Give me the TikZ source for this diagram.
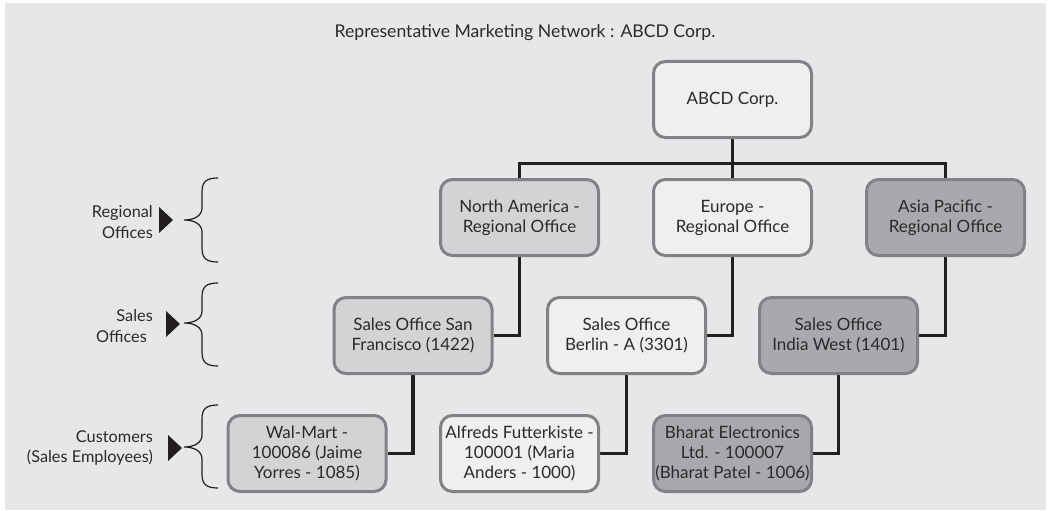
\documentclass[tikz,border=0pt]{standalone}
\usepackage{fontspec}
\setmainfont{Lato}
\definecolor{bgc}{HTML}{E6E7E8}
\definecolor{lightc}{HTML}{D1D3D4}
\definecolor{darkc}{HTML}{A7A9AC}
\definecolor{whitec}{HTML}{EFEFF0}
\definecolor{bordc}{HTML}{808285}
\definecolor{linec}{HTML}{231F20}
\definecolor{txtc}{HTML}{2A2A2A}
\newcommand\bxfont{\fontsize{17}{20}\selectfont}
\newcommand\lblfont{\fontsize{16.3}{20.5}\selectfont}
\pgfdeclarelayer{bglayer}
\pgfdeclarelayer{connlayer}
\pgfsetlayers{bglayer,connlayer,main}
\begin{document}
\begin{tikzpicture}[x=1pt,y=-1pt,
  box/.style={draw=bordc, line width=3pt, rounded corners=12pt, minimum width=158pt, minimum height=76pt, inner sep=0pt, align=center, font=\bxfont, text=txtc},
  lightbox/.style={box, fill=lightc},
  darkbox/.style={box, fill=darkc},
  whitebox/.style={box, fill=whitec},
  conn/.style={draw=linec, line width=3.2pt},
  bracepath/.style={draw=linec, line width=1.2pt},
  pointer/.style={fill=linec},
  lbl/.style={anchor=east, align=right, font=\lblfont, text=txtc, inner sep=0pt}]
\useasboundingbox (0,0) rectangle (1049,511);
\begin{pgfonlayer}{bglayer}
\fill[bgc] (5,3) rectangle (1046,510);
\end{pgfonlayer}

\node[font=\fontsize{17.6}{20}\selectfont, text=txtc] (title) at (525,33) {Representative Marketing Network : ABCD Corp.};

\node[whitebox] (abcd) at (732.5,99.5) {ABCD Corp.};

\node[lightbox] (na) at (519.5,217.5) {North America -\\Regional Office};
\node[whitebox] (eu) at (732.5,217.5) {Europe -\\Regional Office};
\node[darkbox] (ap) at (945.5,217.5) {Asia Pacific -\\Regional Office};

\node[lightbox] (sf) at (413,335.5) {Sales Office San\\Francisco (1422)};
\node[whitebox] (be) at (626.5,335.5) {Sales Office\\Berlin - A (3301)};
\node[darkbox] (iw) at (838.5,335.5) {Sales Office\\India West (1401)};

\node[lightbox] (wm) at (307,453.5) {Wal-Mart -\\100086 (Jaime\\Yorres - 1085)};
\node[whitebox] (af) at (519.5,453.5) {Alfreds Futterkiste -\\100001 (Maria\\Anders - 1000)};
\node[darkbox] (bh) at (732.5,453.5) {Bharat Electronics\\Ltd. - 100007\\(Bharat Patel - 1006)};

\coordinate (bus) at (732.5,163.5);
\begin{pgfonlayer}{connlayer}
\draw[conn] (abcd.south) -- (eu.north);
\draw[conn] (na.north) |- (bus) -| (ap.north);
\draw[conn] (na.south) |- (sf.east);
\draw[conn] (eu.south) |- (be.east);
\draw[conn] (ap.south) |- (iw.east);
\draw[conn] (sf.south) |- (wm.east);
\draw[conn] (be.south) |- (af.east);
\draw[conn] (iw.south) |- (bh.east);
\end{pgfonlayer}

% left labels
\node[lbl] (lreg) at (153,222) {Regional\\Offices};
\node[lbl] (lsal) at (153,326) {Sales\\Offices\kern6pt};
\node[lbl] (lcus) at (153,448) {Customers\\(Sales Employees)};

\fill[pointer] (159,207) -- (159,233) -- (173,220) -- cycle;
\fill[pointer] (166,311) -- (166,337) -- (180,324) -- cycle;
\fill[pointer] (168,435) -- (168,461) -- (182,448) -- cycle;

\draw[bracepath] (218,178) .. controls (206,178) and (202,182) .. (202,192) -- (202,208) .. controls (202,216) and (194,220) .. (184,220) .. controls (194,220) and (202,224) .. (202,232) -- (202,248) .. controls (202,258) and (206,262) .. (218,262);
\draw[bracepath] (218,283) .. controls (206,283) and (202,287) .. (202,297) -- (202,311) .. controls (202,319) and (194,323) .. (184,323) .. controls (194,323) and (202,327) .. (202,335) -- (202,352) .. controls (202,362) and (206,366) .. (218,366);
\draw[bracepath] (218,405) .. controls (206,405) and (202,409) .. (202,419) -- (202,435) .. controls (202,443) and (194,447) .. (184,447) .. controls (194,447) and (202,451) .. (202,459) -- (202,474) .. controls (202,484) and (206,488) .. (218,488);
\end{tikzpicture}
\end{document}
